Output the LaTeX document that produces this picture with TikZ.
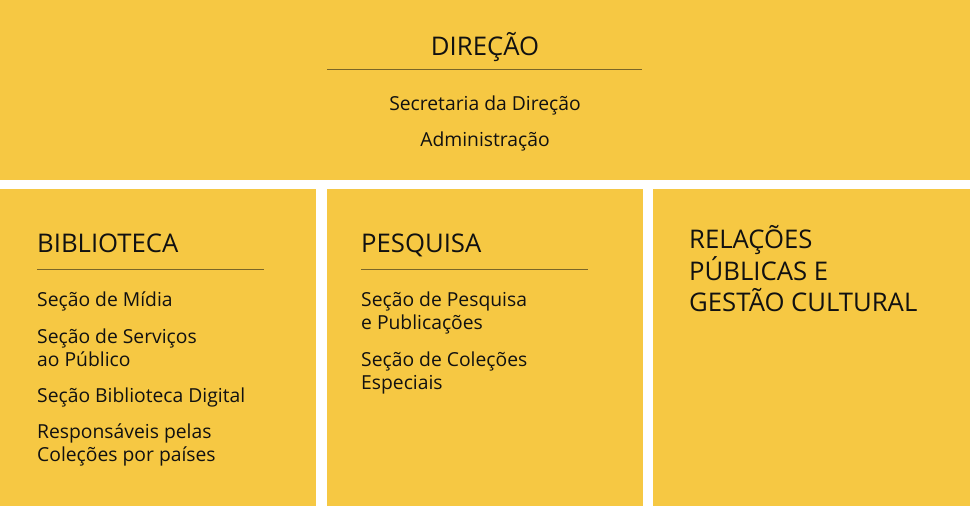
\documentclass[tikz,border=0pt]{standalone}
\usepackage{fontspec}
\setmainfont{Open Sans}
\definecolor{yel}{HTML}{F6C843}
\definecolor{rule}{HTML}{7A6628}
\definecolor{ink}{HTML}{111111}
\begin{document}
\begin{tikzpicture}[x=1pt,y=-1pt,
  panel/.style={fill=yel,draw=none},
  head/.style={inner sep=0pt,anchor=base west,text=ink,font=\fontsize{25.7}{28}\selectfont},
  item/.style={inner sep=0pt,anchor=base west,text=ink,font=\fontsize{19.3}{22}\selectfont},
  citem/.style={inner sep=0pt,anchor=base,text=ink,font=\fontsize{19.3}{22}\selectfont},
  sep/.style={draw=rule,line width=1pt}]
\useasboundingbox (0,0) rectangle (970,506);
\fill[white] (0,0) rectangle (970,506);
\path[panel] (0,0) rectangle (970,180);
\path[panel] (0,189) rectangle (316,506);
\path[panel] (327,189) rectangle (643,506);
\path[panel] (653,189) rectangle (970,506);
% Direção
\node[head,anchor=base] (dir) at (485,55) {DIREÇÃO};
\coordinate (dl) at (327,69); \coordinate (dr) at (642,69);
\draw[sep] (dl) -- (dr);
\node[citem] (sec) at (485,110) {Secretaria da Direção};
\node[citem] (adm) at (485,146) {Administração};
% Biblioteca
\node[head] (bib) at (37,252) {BIBLIOTECA};
\coordinate (bl) at (37,269); \coordinate (br) at (264,269);
\draw[sep] (bl) -- (br);
\node[item] (b1) at (37,306) {Seção de Mídia};
\node[item] (b2a) at (37,343) {Seção de Serviços};
\node[item] (b2b) at (37,366) {ao Público};
\node[item] (b3) at (37,402) {Seção Biblioteca Digital};
\node[item] (b4a) at (37,438) {Responsáveis pelas};
\node[item] (b4b) at (37,461) {Coleções por países};
% Pesquisa
\node[head] (pes) at (361,252) {PESQUISA};
\coordinate (pl) at (361,269); \coordinate (pr) at (588,269);
\draw[sep] (pl) -- (pr);
\node[item] (p1a) at (361,306) {Seção de Pesquisa};
\node[item] (p1b) at (361,329) {e Publicações};
\node[item] (p2a) at (361,366) {Seção de Coleções};
\node[item] (p2b) at (361,389) {Especiais};
% Relações
\node[head] (r1) at (689,248) {RELAÇÕES};
\node[head] (r2) at (689,280) {PÚBLICAS E};
\node[head] (r3) at (689,311) {GESTÃO CULTURAL};
\end{tikzpicture}
\end{document}
